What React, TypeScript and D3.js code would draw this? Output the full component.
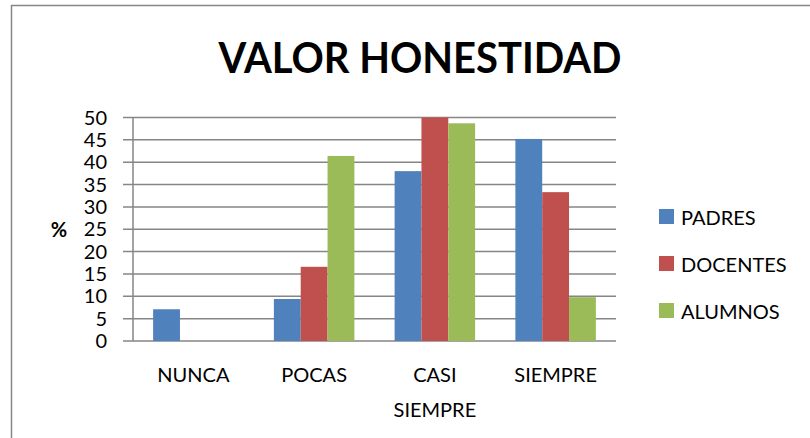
import React from 'react';
import * as d3 from 'd3';

const categories = ['NUNCA', 'POCAS', 'CASI SIEMPRE', 'SIEMPRE'];
const seriesNames = ['PADRES', 'DOCENTES', 'ALUMNOS'];
const padres = [7.1, 9.4, 38.0, 45.2];
const docentes = [0, 16.6, 50, 33.3];
const alumnos = [0, 41.4, 48.7, 9.8];
const yTicks = [0, 5, 10, 15, 20, 25, 30, 35, 40, 45, 50];
const colors = ['#4F81BD', '#C0504D', '#9BBB59'];

const font = 'Lato, "Open Sans", sans-serif';

export default function App() {
  const W = 810, H = 438;
  const left = 133, right = 616, top = 117.5, bottom = 341;
  const series = [padres, docentes, alumnos];

  // gap width 150% of a bar, like the spreadsheet default
  const x = d3.scaleBand().domain(categories).range([left, right]).paddingInner(1 / 3).paddingOuter(1 / 6);
  const xs = d3.scaleBand().domain(seriesNames).range([0, x.bandwidth()]);
  const y = d3.scaleLinear().domain([0, 50]).range([bottom, top]);

  return (
    <svg width={W} height={H} style={{ position: 'absolute', left: 0, top: 0 }}>
      <rect x={0} y={0} width={W} height={H} fill="#fff" />
      <rect x={11.5} y={5.5} width={W + 20} height={H + 20} fill="none" stroke="#868686" strokeWidth={1.5} />
      <text x={420} y={73} textAnchor="middle" fontFamily={font} fontWeight="bold" fontSize={42}
        textLength={403} lengthAdjust="spacingAndGlyphs" fill="#000">VALOR HONESTIDAD</text>

      {yTicks.map(t => (
        <g key={t}>
          <line x1={left - 10} x2={right} y1={y(t)} y2={y(t)} stroke="#868686" strokeWidth={1.5} />
          <text x={107} y={y(t) + 7} textAnchor="end" fontFamily={font} fontSize={20} fill="#000">{t}</text>
        </g>
      ))}
      <line x1={left} x2={left} y1={top} y2={bottom} stroke="#868686" strokeWidth={1.5} />
      <text x={59} y={237} textAnchor="middle" fontFamily={font} fontWeight="bold" fontSize={20} fill="#000">%</text>

      {series.map((vals, si) => vals.map((v, ci) => (
        v > 0 ? (
          <rect key={si + '-' + ci}
            x={(x(categories[ci]) as number) + (xs(seriesNames[si]) as number)}
            y={y(v)} width={xs.bandwidth()} height={bottom - y(v)} fill={colors[si]} />
        ) : null
      )))}

      {categories.map(c => {
        const cx = (x(c) as number) + x.bandwidth() / 2;
        const lines = c === 'CASI SIEMPRE' ? ['CASI', 'SIEMPRE'] : [c];
        return (
          <text key={c} textAnchor="middle" fontFamily={font} fontSize={20} fill="#000">
            {lines.map((l, i) => (
              <tspan key={i} x={cx} y={382 + i * 35}>{l}</tspan>
            ))}
          </text>
        );
      })}

      {seriesNames.map((s, i) => (
        <g key={s}>
          <rect x={659} y={209 + i * 47} width={15} height={15} fill={colors[i]} />
          <text x={681} y={224.5 + i * 47} fontFamily={font} fontSize={20} fill="#000">{s}</text>
        </g>
      ))}
    </svg>
  );
}
